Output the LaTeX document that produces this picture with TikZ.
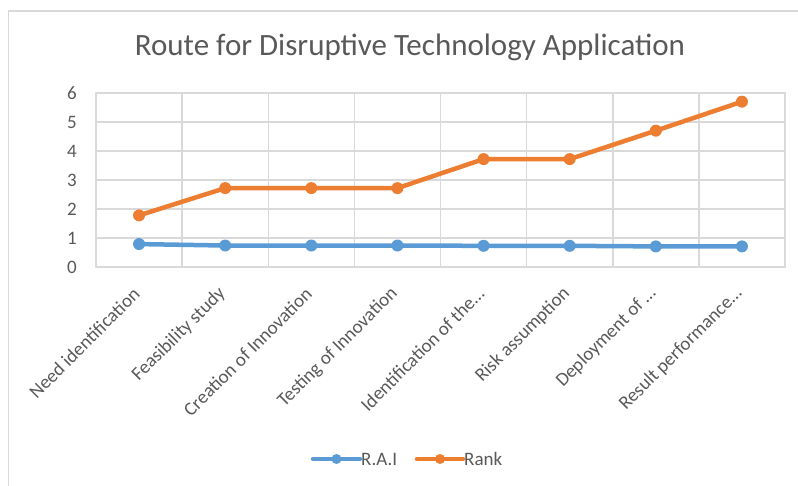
\documentclass[tikz,border=0pt]{standalone}
\usepackage{fontspec}
\setmainfont{Carlito}
\usetikzlibrary{calc}

\definecolor{raiblue}{HTML}{5B9BD5}
\definecolor{rankorange}{HTML}{ED7D31}
\definecolor{gridgray}{HTML}{D9D9D9}
\definecolor{labelgray}{HTML}{595959}

\begin{document}
\begin{tikzpicture}[x=1pt,y=1pt,line cap=round,
		grid/.style={gridgray,line width=1.5pt},
		series/.style={line width=4.5pt,line join=round},
		dot/.style={circle,fill,inner sep=0pt,minimum size=12pt},
		ticklabel/.style={text=labelgray,font=\fontsize{19}{19}\selectfont}]

		\useasboundingbox (0,0) rectangle (798,486);

		% draw the chart frame
		\draw[grid] (8.5,0) -- (8.5,475) -- (798,475);

		% draw the title
		\node[text=labelgray,font=\fontsize{31}{31}\selectfont] (title) at (410,439) {Route for Disruptive Technology Application};

		% horizontal grid lines and the values on the y axis
		\foreach \v in {0,...,6} {
			\draw[grid] (96,219+29*\v) -- (785,219+29*\v);
			\node[ticklabel] (val\v) at (72,219+29*\v) {\v};
		}

		% vertical grid lines
		\foreach \i in {0,...,8}
			\draw[grid] (96+86.125*\i,219) -- (96+86.125*\i,393);

		% the data points of both series
		\foreach \r/\k [count=\i] in {
		0.79/1.78,
		0.74/2.72,
		0.74/2.72,
		0.74/2.72,
		0.73/3.72,
		0.73/3.72,
		0.71/4.70,
		0.71/5.70} {
			\coordinate (rai\i) at (52.94+86.125*\i,219+29*\r);
			\coordinate (rank\i) at (52.94+86.125*\i,219+29*\k);
		}

		% draw the R.A.I series
		\draw[series,raiblue] (rai1) -- (rai2) -- (rai3) -- (rai4) -- (rai5) -- (rai6) -- (rai7) -- (rai8);
		\foreach \i in {1,...,8}
			\node[dot,raiblue] (raidot\i) at (rai\i) {};

		% draw the Rank series
		\draw[series,rankorange] (rank1) -- (rank2) -- (rank3) -- (rank4) -- (rank5) -- (rank6) -- (rank7) -- (rank8);
		\foreach \i in {1,...,8}
			\node[dot,rankorange] (rankdot\i) at (rank\i) {};

		% draw the category names
		\foreach \t [count=\i] in {
		Need identification,
		Feasibility study,
		Creation of Innovation,
		Testing of Innovation,
		Identification of the…,
		Risk assumption,
		Deployment of …,
		Result performance…}
			\node[ticklabel,rotate=45,anchor=east,inner sep=1pt] (cat\i) at (51+86.125*\i,196) {\t};

		% draw the legend
		\coordinate (raistart) at (313,27);
		\coordinate (raiend) at (360,27);
		\coordinate (rankstart) at (417,27);
		\coordinate (rankend) at (463,27);
		\draw[series,raiblue] (raistart) -- (raiend);
		\node[dot,raiblue,minimum size=10pt] (raimark) at ($(raistart)!0.5!(raiend)$) {};
		\node[ticklabel,anchor=west,inner sep=1pt] (railabel) at (raiend) {R.A.I};
		\draw[series,rankorange] (rankstart) -- (rankend);
		\node[dot,rankorange,minimum size=10pt] (rankmark) at ($(rankstart)!0.5!(rankend)$) {};
		\node[ticklabel,anchor=west,inner sep=1pt] (ranklabel) at (rankend) {Rank};
	\end{tikzpicture}
\end{document}
